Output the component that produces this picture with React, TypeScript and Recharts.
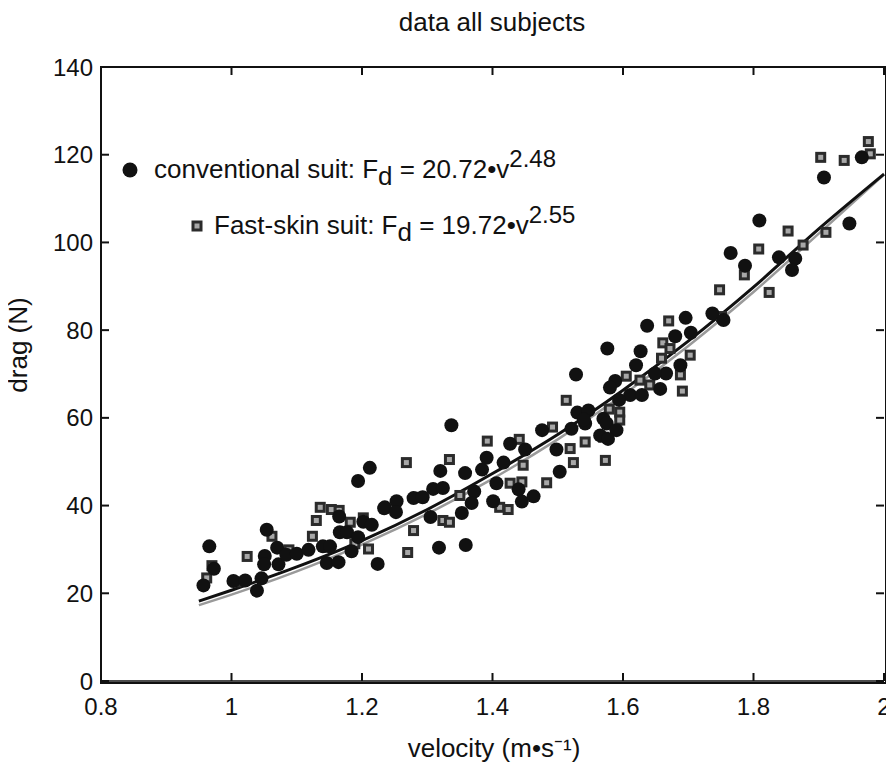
import React from "react";
import { ComposedChart, Scatter, Line, XAxis, YAxis } from "recharts";

const X_TICKS = [0.8, 1, 1.2, 1.4, 1.6, 1.8, 2];
const Y_TICKS = [0, 20, 40, 60, 80, 100, 120, 140];

// conventional suit: [velocity, drag]
const conventional: [number, number][] = [
  [0.966, 30.7], [0.957, 21.8], [0.973, 25.6], [1.054, 34.5], [1.051, 28.5],
  [1.05, 26.6], [1.07, 30.4], [1.072, 26.6], [1.084, 28.8], [1.003, 22.8],
  [1.021, 22.9], [1.039, 20.6], [1.046, 23.4], [1.1, 29.0], [1.118, 29.9],
  [1.14, 30.7], [1.151, 30.7], [1.146, 26.9], [1.164, 27.1], [1.165, 37.5],
  [1.166, 33.9], [1.177, 33.9], [1.194, 45.6], [1.212, 48.6], [1.184, 29.6],
  [1.202, 36.3], [1.215, 35.6], [1.224, 26.7], [1.234, 39.4], [1.194, 32.8],
  [1.337, 58.3], [1.528, 69.9], [1.53, 61.2], [1.521, 57.5], [1.476, 57.2],
  [1.498, 52.8], [1.503, 47.7], [1.45, 52.8], [1.427, 54.1], [1.417, 49.8],
  [1.391, 50.9], [1.384, 48.2], [1.358, 47.4], [1.32, 47.9], [1.309, 43.8],
  [1.324, 44.0], [1.372, 43.2], [1.368, 40.6], [1.353, 38.3], [1.406, 45.1],
  [1.401, 41.0], [1.44, 43.7], [1.445, 40.9], [1.463, 42.1], [1.253, 41.0],
  [1.235, 39.6], [1.252, 38.5], [1.279, 41.7], [1.293, 41.9], [1.305, 37.4],
  [1.318, 30.4], [1.359, 31.0],
  [1.765, 97.6], [1.637, 81.0], [1.576, 75.8], [1.627, 75.2], [1.696, 82.8],
  [1.737, 83.8], [1.754, 82.3], [1.68, 78.6], [1.704, 79.4], [1.62, 72.0],
  [1.688, 72.0], [1.666, 70.1], [1.649, 70.1], [1.588, 68.4], [1.58, 66.9],
  [1.611, 65.2], [1.629, 65.2], [1.657, 66.6], [1.594, 64.1], [1.547, 61.7],
  [1.542, 58.7], [1.57, 59.8], [1.575, 58.7], [1.59, 57.2], [1.565, 56.0],
  [1.577, 55.2], [1.54, 59.6],
  [1.908, 114.8], [1.966, 119.4], [1.947, 104.3], [1.809, 105.0], [1.787, 94.7],
  [1.839, 96.6], [1.864, 96.3], [1.859, 93.7],
];

// Fast-skin suit: [velocity, drag]
const fastskin: [number, number][] = [
  [0.962, 23.5], [0.97, 26.3], [1.024, 28.4], [1.062, 33.0], [1.007, 22.6],
  [1.088, 29.9], [1.124, 33.0], [1.13, 36.6], [1.136, 39.6], [1.153, 39.1],
  [1.165, 38.9], [1.182, 36.2], [1.189, 31.3], [1.202, 37.2], [1.21, 30.1],
  [1.146, 30.5], [1.27, 29.3],
  [1.268, 49.8], [1.334, 50.5], [1.392, 54.7], [1.441, 55.1], [1.513, 64.0],
  [1.492, 57.9], [1.519, 53.0], [1.524, 49.8], [1.447, 49.2], [1.427, 45.1],
  [1.445, 45.4], [1.483, 45.2], [1.411, 39.6], [1.424, 39.1], [1.324, 36.6],
  [1.334, 36.2], [1.279, 34.3], [1.285, 41.9], [1.35, 42.3], [1.573, 50.3],
  [1.748, 89.2], [1.67, 82.1], [1.661, 77.1], [1.672, 75.8], [1.703, 74.3],
  [1.659, 73.6], [1.688, 69.8], [1.691, 66.1], [1.751, 83.1], [1.605, 69.5],
  [1.626, 68.6], [1.641, 67.5], [1.579, 62.0], [1.595, 61.3], [1.595, 59.5],
  [1.542, 54.5], [1.57, 55.6],
  [1.976, 123.0], [1.979, 120.2], [1.903, 119.4], [1.939, 118.7], [1.853, 102.6],
  [1.911, 102.3], [1.808, 98.5], [1.876, 99.4], [1.786, 92.6], [1.824, 88.6],
];

// fitted curves
const fitV = [0.95, 1.0, 1.1, 1.2, 1.3, 1.4, 1.5, 1.6, 1.7, 1.8, 1.9, 2.0];
const conventionalFit = [18.2, 20.7, 26.0, 32.0, 39.1, 47.3, 56.2, 66.3, 77.5, 89.8, 103.1, 115.6];
const fastskinFit = [17.3, 19.7, 25.0, 31.1, 38.1, 46.1, 55.1, 65.2, 76.4, 88.7, 102.0, 115.5];

const FONT = "'Liberation Sans', Arial, Helvetica, sans-serif";
const INK = "#111";
const FS = 26;
const X_MIN = 0.8;
const X_MAX = 2;
const Y_MIN = 0;
const Y_MAX = 140;

// plot box (matches chart margins + axis sizes below)
const W = 894;
const H = 773;
const M = { top: 67, right: 10 };
const Y_AXIS_W = 101;
const X_AXIS_H = 92;
const BOX = { left: Y_AXIS_W, top: M.top, right: W - M.right, bottom: H - X_AXIS_H };
const TICK = 8;

const convData = conventional.map(([v, F]) => ({ v, F }));
const fastData = fastskin.map(([v, F]) => ({ v, F }));
const fitData = fitV.map((v, i) => ({ v, conv: conventionalFit[i], fast: fastskinFit[i] }));

const boxX = (v: number) => BOX.left + ((v - X_MIN) / (X_MAX - X_MIN)) * (BOX.right - BOX.left);
const boxY = (f: number) => BOX.bottom - ((f - Y_MIN) / (Y_MAX - Y_MIN)) * (BOX.bottom - BOX.top);

function Dot(props: any) {
  const { cx, cy } = props;
  return <circle cx={cx} cy={cy} r={7} fill={INK} />;
}

function SquareMark({ cx, cy }: { cx: number; cy: number }) {
  return (
    <g>
      <rect x={cx - 5.5} y={cy - 5.5} width={11} height={11} fill="#2b2b2b" />
      <rect x={cx - 2.5} y={cy - 2.5} width={5} height={5} fill="#a8a8a8" />
    </g>
  );
}

const Square = (props: any) => <SquareMark cx={props.cx} cy={props.cy} />;

function FrameTicks() {
  return (
    <g stroke={INK} strokeWidth={2} fill="none">
      {X_TICKS.map((t) => (
        <g key={`x${t}`}>
          <line x1={boxX(t)} y1={BOX.bottom} x2={boxX(t)} y2={BOX.bottom - TICK} />
          <line x1={boxX(t)} y1={BOX.top} x2={boxX(t)} y2={BOX.top + TICK} />
        </g>
      ))}
      {Y_TICKS.map((t) => (
        <g key={`y${t}`}>
          <line x1={BOX.left} y1={boxY(t)} x2={BOX.left + TICK} y2={boxY(t)} />
          <line x1={BOX.right} y1={boxY(t)} x2={BOX.right - TICK} y2={boxY(t)} />
        </g>
      ))}
    </g>
  );
}

export default function App() {
  const axisLine = { stroke: INK, strokeWidth: 1.5 };
  const tickStyle = { fill: INK, fontSize: 24, fontFamily: FONT };
  return (
    <div style={{ position: "relative", width: W, height: H, margin: -8, background: "#fff" }}>
      <ComposedChart width={W} height={H} margin={{ top: M.top, right: M.right, bottom: 0, left: 0 }}>
        <XAxis
          dataKey="v"
          type="number"
          domain={[X_MIN, X_MAX]}
          ticks={X_TICKS}
          height={X_AXIS_H}
          tickSize={-8}
          tickMargin={25}
          axisLine={axisLine}
          tickLine={false}
          tick={tickStyle}
          tickFormatter={(v: number) => String(v)}
        />
        <YAxis
          type="number"
          domain={[Y_MIN, Y_MAX]}
          ticks={Y_TICKS}
          width={Y_AXIS_W}
          tickSize={-8}
          tickMargin={16}
          axisLine={axisLine}
          tickLine={false}
          tick={tickStyle}
        />
        <Scatter data={fastData} dataKey="F" shape={Square} isAnimationActive={false} />
        <Scatter data={convData} dataKey="F" shape={Dot} isAnimationActive={false} />
        <Line data={fitData} dataKey="fast" type="monotone" stroke="#9a9a9a" strokeWidth={2.5} dot={false} isAnimationActive={false} />
        <Line data={fitData} dataKey="conv" type="monotone" stroke={INK} strokeWidth={3} dot={false} isAnimationActive={false} />
      </ComposedChart>

      {/* plot frame as a plain bordered box */}
      <div
        style={{
          position: "absolute",
          left: BOX.left - 1,
          top: BOX.top - 1,
          width: BOX.right - BOX.left,
          height: BOX.bottom - BOX.top,
          border: `2px solid ${INK}`,
          pointerEvents: "none",
        }}
      />

      <svg style={{ position: "absolute", left: 0, top: 0 }} width={W} height={H} pointerEvents="none" fontFamily={FONT} fill={INK}>
        <FrameTicks />
        <text x={492} y={31} fontSize={FS} textAnchor="middle">data all subjects</text>
        <text x={494} y={757} fontSize={FS} textAnchor="middle">velocity (m•s⁻¹)</text>
        <text transform="translate(27 345) rotate(-90)" fontSize={FS} textAnchor="middle">drag (N)</text>

        <circle cx={130} cy={170} r={7.5} fill={INK} />
        <text x={154} y={178} fontSize={FS}>
          conventional suit: F<tspan dy={7}>d</tspan><tspan dy={-7}> = 20.72•v</tspan><tspan dy={-11} fontSize={24}>2.48</tspan>
        </text>

        <SquareMark cx={197} cy={226} />
        <text x={214} y={234} fontSize={FS}>
          Fast-skin suit: F<tspan dy={7}>d</tspan><tspan dy={-7}> = 19.72•v</tspan><tspan dy={-11} fontSize={24}>2.55</tspan>
        </text>
      </svg>
    </div>
  );
}
